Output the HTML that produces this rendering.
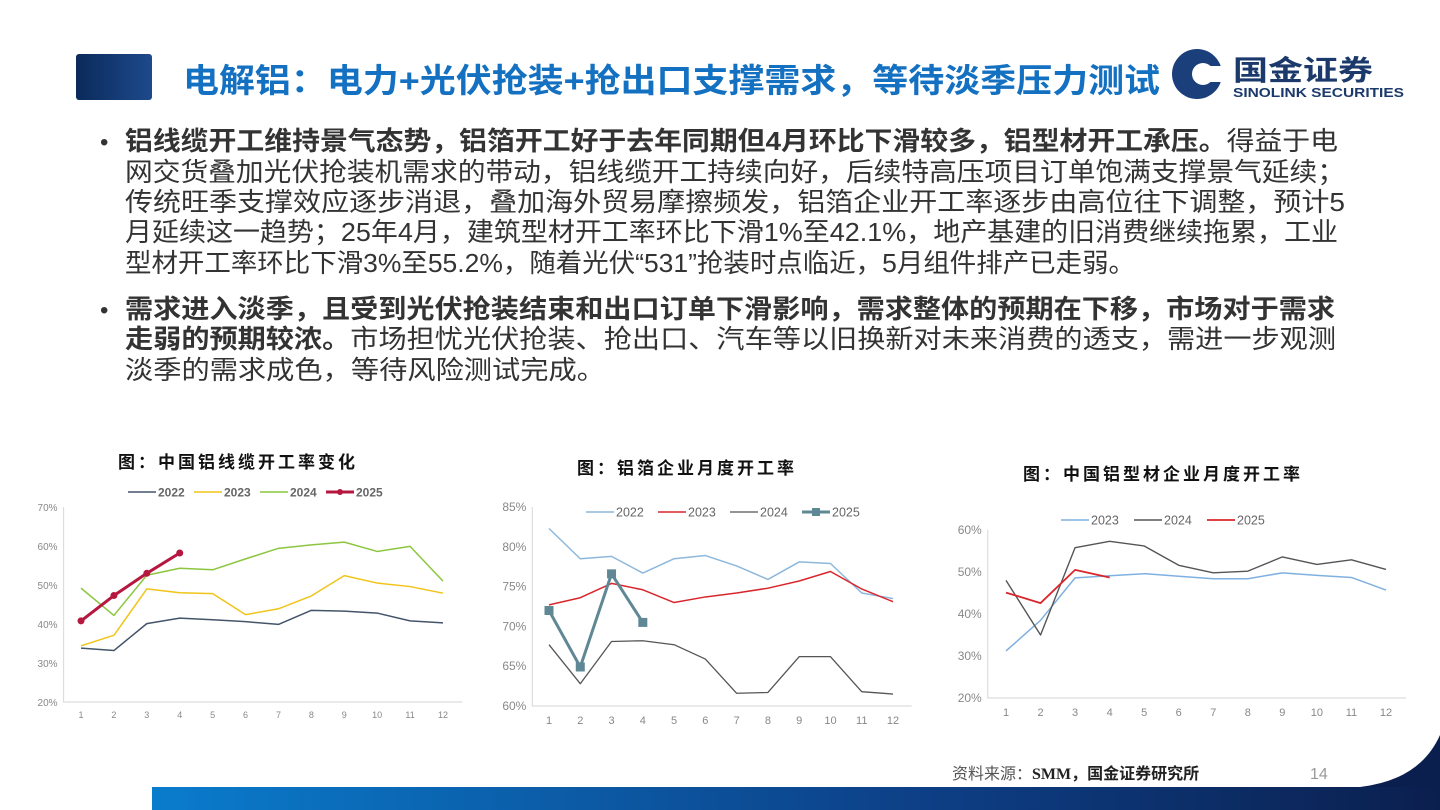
<!DOCTYPE html>
<html><head><meta charset="utf-8"><style>
html,body{margin:0;padding:0;background:#fff;}
svg{display:block;}
text{font-family:"Liberation Sans","Noto Sans CJK SC",sans-serif;}
</style></head><body>
<svg id="page" width="1440" height="810" viewBox="0 0 1440 810">
<defs>
<linearGradient id="hdr" x1="0" x2="1"><stop offset="0" stop-color="#0b2a5a"/><stop offset="1" stop-color="#1d4a8c"/></linearGradient>
<linearGradient id="ftr" x1="0" x2="1"><stop offset="0" stop-color="#0a7ccc"/><stop offset="0.6" stop-color="#0d3f86"/><stop offset="1" stop-color="#0b1f4e"/></linearGradient>
</defs>
<rect x="76" y="54" width="76" height="46" rx="3" fill="url(#hdr)"/>
<text x="183" y="92" font-size="33" font-weight="bold" fill="#1470c0" textLength="977" lengthAdjust="spacingAndGlyphs">电解铝：电力+光伏抢装+抢出口支撑需求，等待淡季压力测试</text>
<g>
<circle cx="1197" cy="74" r="25" fill="#1b3f7a"/>
<circle cx="1203" cy="74" r="11" fill="#fff"/>
<rect x="1206" y="66" width="18" height="16" fill="#fff"/>
<text x="1233" y="80" font-size="28" font-weight="bold" fill="#1b3a6b" textLength="140" lengthAdjust="spacingAndGlyphs">国金证券</text>
<text x="1233" y="97" font-size="13" font-weight="bold" fill="#1b3a6b" textLength="171" lengthAdjust="spacingAndGlyphs">SINOLINK SECURITIES</text>
</g>
<g fill="#333" font-size="26">
<text x="100" y="150" font-size="24">•</text>
<text x="125" y="150" textLength="1213" lengthAdjust="spacingAndGlyphs"><tspan font-weight="bold">铝线缆开工维持景气态势，铝箔开工好于去年同期但4月环比下滑较多，铝型材开工承压。</tspan>得益于电</text>
<text x="125" y="181" textLength="1220" lengthAdjust="spacingAndGlyphs">网交货叠加光伏抢装机需求的带动，铝线缆开工持续向好，后续特高压项目订单饱满支撑景气延续；</text>
<text x="125" y="211" textLength="1220" lengthAdjust="spacingAndGlyphs">传统旺季支撑效应逐步消退，叠加海外贸易摩擦频发，铝箔企业开工率逐步由高位往下调整，预计5</text>
<text x="125" y="241" textLength="1213" lengthAdjust="spacingAndGlyphs">月延续这一趋势；25年4月，建筑型材开工率环比下滑1%至42.1%，地产基建的旧消费继续拖累，工业</text>
<text x="125" y="272" textLength="1010" lengthAdjust="spacingAndGlyphs">型材开工率环比下滑3%至55.2%，随着光伏“531”抢装时点临近，5月组件排产已走弱。</text>
<text x="100" y="318" font-size="24">•</text>
<text x="125" y="318" font-weight="bold" textLength="1210" lengthAdjust="spacingAndGlyphs">需求进入淡季，且受到光伏抢装结束和出口订单下滑影响，需求整体的预期在下移，市场对于需求</text>
<text x="125" y="348" textLength="1211" lengthAdjust="spacingAndGlyphs"><tspan font-weight="bold">走弱的预期较浓。</tspan>市场担忧光伏抢装、抢出口、汽车等以旧换新对未来消费的透支，需进一步观测</text>
<text x="125" y="379" textLength="480" lengthAdjust="spacingAndGlyphs">淡季的需求成色，等待风险测试完成。</text>
</g>
<g id="c1"></g>
<g id="c2"></g>
<g id="c3"></g>
<path d="M152 787 L1440 787 L1440 810 L152 810 Z" fill="url(#ftr)"/>
<path d="M1360 787 Q1420 780 1440 735 L1440 787 Z" fill="#0b1f4e"/>
<text x="952" y="779" font-size="16" fill="#555">资料来源：<tspan font-family="Liberation Serif" font-weight="bold" fill="#222">SMM</tspan><tspan font-weight="bold" fill="#222">，国金证券研究所</tspan></text>
<text x="1310" y="779" font-size="16" fill="#999">14</text>
</svg>
<script>
const months = [1,2,3,4,5,6,7,8,9,10,11,12];
// chart 1: cable
const c1Years = ['2022','2023','2024','2025'];
const c1_2022 = [33.8,33.2,40.1,41.5,41.1,40.6,39.9,43.5,43.3,42.8,40.8,40.3];
const c1_2023 = [34.4,37.1,49.0,48.0,47.8,42.4,43.9,47.2,52.4,50.5,49.6,47.9];
const c1_2024 = [49.2,42.2,52.5,54.3,53.9,56.7,59.4,60.3,61.0,58.6,59.9,51.0];
const c1_2025 = [40.8,47.3,53.0,58.2];
const c1Ticks = [20,30,40,50,60,70];
// chart 2: foil
const c2Years = ['2022','2023','2024','2025'];
const c2_2022 = [82.3,78.5,78.8,76.7,78.5,78.9,77.6,75.9,78.1,77.9,74.2,73.5];
const c2_2023 = [72.7,73.6,75.4,74.6,73.0,73.7,74.2,74.8,75.7,76.9,74.7,73.1];
const c2_2024 = [67.7,62.8,68.1,68.2,67.7,65.9,61.6,61.7,66.2,66.2,61.8,61.5];
const c2_2025 = [72.0,64.9,76.6,70.5];
const c2Ticks = [60,65,70,75,80,85];
// chart 3: profiles
const c3Years = ['2023','2024','2025'];
const c3_2023 = [31.2,38.5,48.6,49.1,49.6,49.0,48.4,48.4,49.8,49.2,48.7,45.7];
const c3_2024 = [48.0,35.0,55.8,57.3,56.2,51.6,49.8,50.2,53.6,51.8,52.9,50.6];
const c3_2025 = [45.1,42.6,50.5,48.7];
const c3Ticks = [20,30,40,50,60];

const NS='http://www.w3.org/2000/svg';
function mk(p,tag,at){const e=document.createElementNS(NS,tag);for(const k in at)e.setAttribute(k,at[k]);p.appendChild(e);return e;}

function chart(g,cfg){
  const xs=m=>cfg.x1+(m-1)*(cfg.x12-cfg.x1)/11;
  const ys=v=>cfg.yb-(v-cfg.ymin)*(cfg.yb-cfg.yt)/(cfg.ymax-cfg.ymin);
  const t=mk(g,'text',{x:cfg.tx,y:cfg.ty,'font-size':17,'font-weight':'bold',fill:'#111','letter-spacing':'3','text-anchor':'middle','font-family':'"Noto Serif CJK SC",serif'});
  t.textContent=cfg.title;
  
  
  const axL=cfg.x1-(cfg.x12-cfg.x1)/22-1, axR=cfg.x12+(cfg.x12-cfg.x1)/22+3;
  const ax=mk(g,'path',{d:`M${axL} ${cfg.yt} L${axL} ${cfg.yb} L${axR} ${cfg.yb}`,stroke:'#ddd',fill:'none','stroke-width':1.2});
  
  
  cfg.ticks.forEach(v=>{
    const tt=mk(g,'text',{x:axL-6,y:ys(v)+4,'font-size':cfg.fs,fill:'#888','text-anchor':'end'});
    tt.textContent=v+'%';
    
    
  });
  months.forEach(m=>{
    const tt=mk(g,'text',{x:xs(m),y:cfg.yb+cfg.fs+6,'font-size':cfg.fs-1,fill:'#888','text-anchor':'middle'});
    tt.textContent=m;
    
    
  });
  cfg.series.forEach((s,i)=>{
    const pts=s.d.map((v,j)=>xs(j+1)+','+ys(v)).join(' ');
    const pl=mk(g,'polyline',{points:pts,fill:'none',stroke:s.c,'stroke-width':s.w,'stroke-linejoin':'round'});
    
    
    if(s.mk){s.d.forEach((v,j)=>{
      let e;
      if(s.mk==='c') e=mk(g,'circle',{cx:xs(j+1),cy:ys(v),r:3.5,fill:s.c});
      else e=mk(g,'rect',{x:xs(j+1)-4.5,y:ys(v)-4.5,width:9,height:9,fill:s.c});
      
      
    });}
    const lx=cfg.lx+i*cfg.lstep;
    const ll=mk(g,'line',{x1:lx,x2:lx+28,y1:cfg.ly,y2:cfg.ly,stroke:s.c,'stroke-width':s.w});
    
    
    if(s.mk){let e=s.mk==='c'?mk(g,'circle',{cx:lx+14,cy:cfg.ly,r:3,fill:s.c}):mk(g,'rect',{x:lx+10,y:cfg.ly-4,width:8,height:8,fill:s.c});
      
      }
    const lt=mk(g,'text',{x:lx+30,y:cfg.ly+4.5,'font-size':cfg.lfs,fill:'#666','font-weight':cfg.lbold?'bold':'normal'});
    lt.textContent=s.n;
    
    
  });
}
chart(document.getElementById('c1'),{title:'图：中国铝线缆开工率变化',tx:238,ty:468,x1:81,x12:443,yt:507,yb:702,ymin:20,ymax:70,ticks:c1Ticks,fs:10,lx:128,ly:492,lstep:66,lfs:12,lbold:true,
  series:[{n:c1Years[0],d:c1_2022,c:'#44546a',w:1.5},{n:c1Years[1],d:c1_2023,c:'#f0c419',w:1.5},{n:c1Years[2],d:c1_2024,c:'#8cc63f',w:1.5},{n:c1Years[3],d:c1_2025,c:'#b5173f',w:3,mk:'c'}]});
chart(document.getElementById('c2'),{title:'图：铝箔企业月度开工率',tx:687,ty:474,x1:549,x12:893,yt:507,yb:706,ymin:60,ymax:85,ticks:c2Ticks,fs:12,lx:586,ly:512,lstep:72,lfs:12.5,
  series:[{n:c2Years[0],d:c2_2022,c:'#8db8dc',w:1.5},{n:c2Years[1],d:c2_2023,c:'#d9262c',w:1.5},{n:c2Years[2],d:c2_2024,c:'#555',w:1.3},{n:c2Years[3],d:c2_2025,c:'#5f8794',w:3,mk:'s'}]});
chart(document.getElementById('c3'),{title:'图：中国铝型材企业月度开工率',tx:1163,ty:480,x1:1006,x12:1386,yt:530,yb:698,ymin:20,ymax:60,ticks:c3Ticks,fs:12,lx:1061,ly:520,lstep:73,lfs:12.5,
  series:[{n:c3Years[0],d:c3_2023,c:'#7fb0e0',w:1.5},{n:c3Years[1],d:c3_2024,c:'#555',w:1.4},{n:c3Years[2],d:c3_2025,c:'#d9262c',w:1.8}]});
</script>
</body></html>
